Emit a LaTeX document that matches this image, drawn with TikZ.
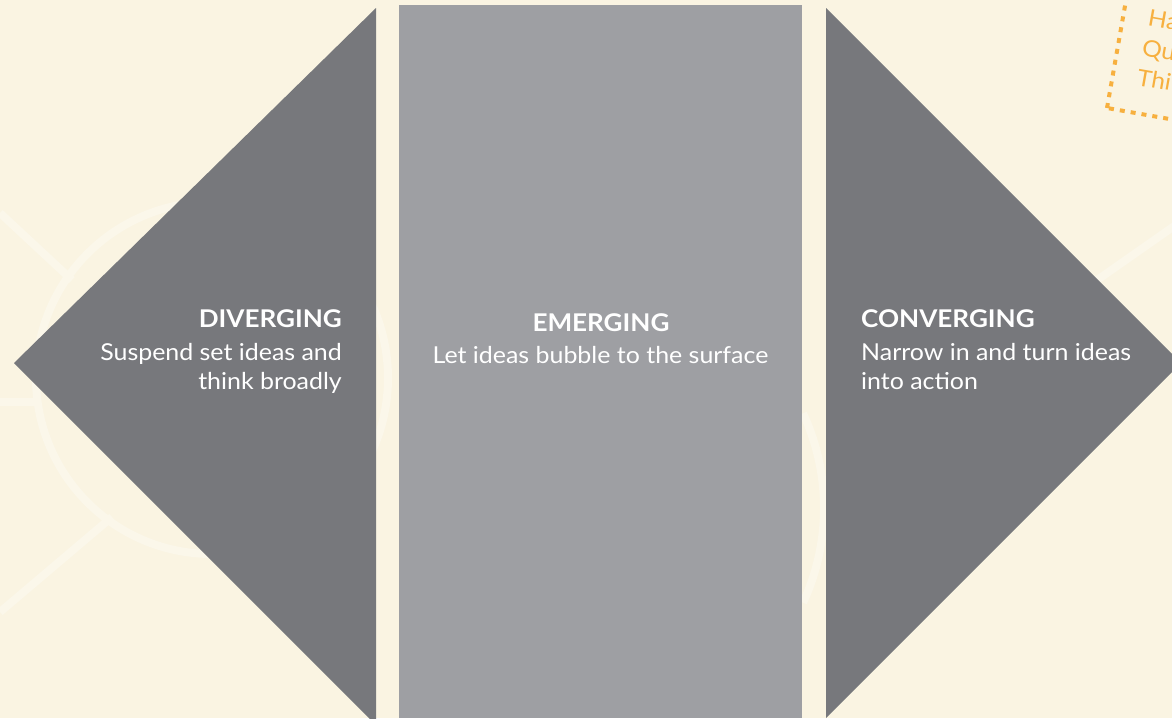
\documentclass[tikz,border=0pt]{standalone}
\usepackage{fontspec}
\setmainfont{Lato}[FakeStretch=1.07]
\definecolor{bg}{HTML}{FAF4E2}
\definecolor{dark}{HTML}{77787C}
\definecolor{light}{HTML}{9E9FA3}
\definecolor{faint}{HTML}{FBF7EA}
\definecolor{orng}{HTML}{F7B03F}
\begin{document}
\begin{tikzpicture}[x=1pt,y=1pt,
  title/.style={text=white,font=\fontsize{24.4}{28}\selectfont\bfseries,inner sep=0pt},
  body/.style={text=white,font=\fontsize{23.3}{28}\selectfont,inner sep=0pt},
  note/.style={text=orng,font=\fontsize{23}{28}\selectfont,inner sep=0pt,rotate=-10,anchor=base west},
  bgline/.style={draw=faint,line width=8pt}]
\useasboundingbox (0,0) rectangle (1172,-718);
\clip (0,0) rectangle (1172,-718);
\fill[bg] (0,0) rectangle (1172,-718);
% faint background drawing
\draw[bgline] (212,-378) circle (176);
\draw[bgline] (0,-213) -- (72,-280);
\draw[bgline] (0,-402) -- (40,-402);
\draw[bgline] (0,-612) -- (112,-517);
\draw[bgline] (600,-508) ++(-25:224) arc (-25:25:224);
\draw[bgline] (1180,-222) -- (1090,-285);
% shapes
\fill[dark] (376,-8) -- (14,-363) -- (376,-725) -- cycle;
\fill[light] (399,-5) rectangle (802,-718);
\fill[dark] (826,-8) -- (1181,-363) -- (826,-718) -- cycle;
% texts
\node[title,anchor=base east] (divT) at (342,-327) {DIVERGING};
\node[body,anchor=base east] (div1) at (342,-360) {Suspend set ideas and};
\node[body,anchor=base east] (div2) at (342,-389) {think broadly};
\node[title,anchor=base] (emT) at (601,-331) {EMERGING};
\node[body,anchor=base] (em1) at (600.5,-363) {Let ideas bubble to the surface};
\node[title,anchor=base west] (conT) at (861,-327) {CONVERGING};
\node[body,anchor=base west] (con1) at (861,-360) {Narrow in and turn ideas};
\node[body,anchor=base west] (con2) at (861,-389) {into action};
% dotted note box
\draw[orng,line width=4pt,dash pattern=on 5pt off 6pt,rotate around={-10:(1107,-108)}] (1107,-108) rectangle (1300,60);
\node[note] (n1) at (1147,-25) {Ha};
\node[note] (n2) at (1141,-55) {Qu};
\node[note] (n3) at (1136,-85) {Thi};
\end{tikzpicture}
\end{document}
